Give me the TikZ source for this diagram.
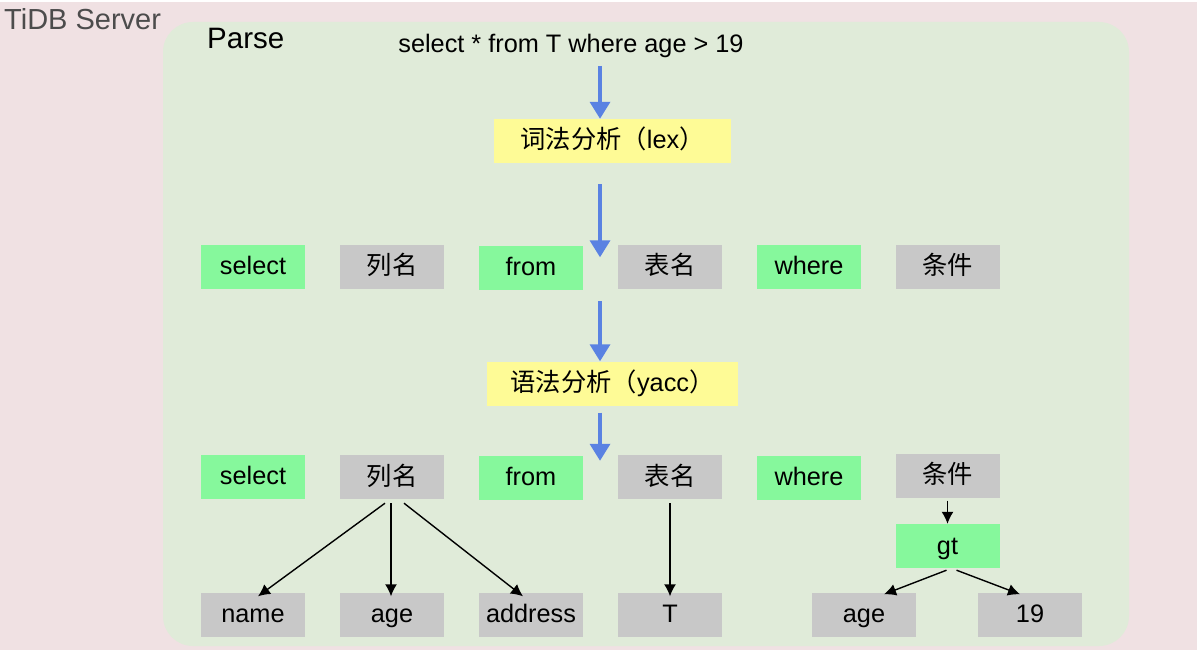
\documentclass[tikz,border=0pt]{standalone}
\usepackage{fontspec}
\setmainfont{Liberation Sans}
\newfontfamily\cjk{Noto Sans CJK SC}
\usetikzlibrary{arrows.meta}
\definecolor{bgpink}{HTML}{F0E1E3}
\definecolor{bggreen}{HTML}{E0EBD9}
\definecolor{kwgreen}{HTML}{86F89C}
\definecolor{boxgray}{HTML}{C8C8C8}
\definecolor{lexyellow}{HTML}{FEFB96}
\definecolor{arrblue}{HTML}{5A82E2}
\tikzset{
  box/.style={minimum width=104pt, minimum height=44pt, inner sep=0pt, text height=20pt, text depth=4pt, font=\fontsize{25.3}{28}\selectfont},
  kw/.style={box, fill=kwgreen},
  gr/.style={box, fill=boxgray},
  stage/.style={fill=lexyellow, minimum height=44pt, inner sep=0pt, text height=20pt, text depth=4pt, font=\fontsize{25.3}{28}\selectfont},
  flow/.style={draw=arrblue, line width=3.5pt, -{Triangle[length=17pt,width=20pt]}, shorten >=0pt},
  link/.style={draw=black, line width=1.4pt, -{Latex[length=12pt,width=12pt]}}
}
\begin{document}
\begin{tikzpicture}[x=1pt,y=-1pt]
\useasboundingbox (0,0) rectangle (1204,658);
\fill[white] (0,0) rectangle (1204,658);
\fill[bgpink] (0,2) rectangle (1197,650);
\fill[bggreen, rounded corners=30pt] (163,22) rectangle (1129,646);
\node[anchor=west, inner sep=0pt, font=\fontsize{29}{32}\selectfont, text=black!70] (srv) at (4,19) {TiDB Server};
\node[anchor=west, inner sep=0pt, font=\fontsize{29.5}{32}\selectfont] (parse) at (207,38) {Parse};
\node[font=\fontsize{25.3}{28}\selectfont] (sql) at (571,46) {select * from T where age > 19};

\node[stage, minimum width=237pt] (lex) at (612.5,141) {\cjk 词法分析（\rmfamily lex\cjk）};
\node[stage, minimum width=251pt] (yacc) at (612.5,383.5) {\cjk 语法分析（\rmfamily yacc\cjk）};

% row 1
\node[kw] (s1) at (253,266.5) {select};
\node[gr] (c1) at (392,266.5) {\cjk 列名};
\node[kw] (f1) at (531,267.5) {from};
\node[gr] (t1) at (670,266.5) {\cjk 表名};
\node[kw] (w1) at (809,266.5) {where};
\node[gr] (k1) at (947.5,266.5) {\cjk 条件};

% row 2
\node[kw] (s2) at (253,476.5) {select};
\node[gr] (c2) at (392,477) {\cjk 列名};
\node[kw] (f2) at (531,477.5) {from};
\node[gr] (t2) at (670,477) {\cjk 表名};
\node[kw] (w2) at (809,477.5) {where};
\node[gr] (k2) at (947.5,475.5) {\cjk 条件};
\node[kw] (gt) at (947.5,546) {gt};

% leaves
\node[gr] (name) at (253,614.5) {name};
\node[gr] (age) at (392,614.5) {age};
\node[gr] (addr) at (531,614.5) {address};
\node[gr] (tt) at (670,614.5) {T};
\node[gr] (age2) at (864,614.5) {age};
\node[gr] (n19) at (1030,614.5) {19};

% blue flow arrows
\coordinate (a1s) at (600,66);
\coordinate (a3s) at (600,301);
\draw[flow] (a1s) -- (lex.north -| a1s);
\draw[flow] ([yshift=-21pt]lex.south -| a1s) -- ([yshift=-12pt]f1.north -| a1s);
\draw[flow] (a3s) -- (yacc.north -| a3s);
\draw[flow] ([yshift=-7pt]yacc.south -| a3s) -- ([yshift=-6pt]t2.north -| a3s);

% tree links
\draw[link] ([xshift=-7pt,yshift=-4pt]c2.south) -- ([xshift=5pt,yshift=-4pt]name.north);
\draw[link] ([xshift=-1pt,yshift=-4pt]c2.south) -- ([xshift=-1pt,yshift=-4pt]age.north);
\draw[link] ([xshift=12pt,yshift=-4pt]c2.south) -- ([xshift=-8pt,yshift=-4pt]addr.north);
\draw[link] ([yshift=-4pt]t2.south) -- ([yshift=-4pt]tt.north);
\draw[link] ([yshift=-3pt]k2.south) -- (gt.north);
\draw[link] ([xshift=-1pt,yshift=-2pt]gt.south) -- ([xshift=20pt,yshift=-2pt]age2.north);
\draw[link] ([xshift=9pt,yshift=-2pt]gt.south) -- ([xshift=-10pt,yshift=-2pt]n19.north);
\end{tikzpicture}
\end{document}
